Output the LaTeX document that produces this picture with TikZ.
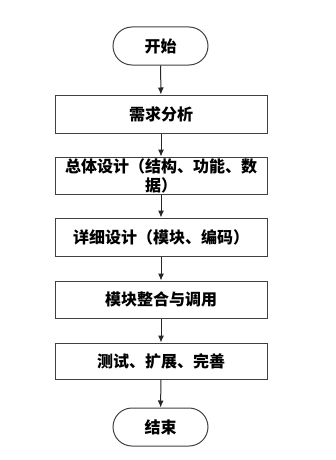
\documentclass[tikz,border=0pt]{standalone}
\usepackage{fontspec}
\newfontfamily\cjk{Noto Sans CJK SC}
\usetikzlibrary{arrows.meta}
\begin{document}
\begin{tikzpicture}[x=1pt,y=-1pt,
  every node/.style={font=\cjk\bfseries\fontsize{16}{19}\selectfont, text=black},
  procbox/.style={draw=black!75, line width=1pt, minimum width=212pt, inner xsep=0pt, inner ysep=0pt, align=center},
  termbox/.style={draw=black!75, line width=1pt, minimum width=95pt, minimum height=38pt, rounded corners=19pt, inner sep=0pt},
  flow/.style={draw=black!85, line width=1pt, -{Latex[length=7pt,width=6pt]}}]
\useasboundingbox (0,0) rectangle (336,460);
\node[termbox] (start) at (160.5,46) {开始};
\node[procbox, minimum height=38pt] (a) at (161,114) {需求分析};
\node[procbox, minimum height=37pt] (b) at (161,175.5) {总体设计（结构、功能、数\\据）};
\node[procbox, minimum height=38pt] (c) at (161,237) {详细设计（模块、编码）};
\node[procbox, minimum height=37pt] (d) at (161,299.5) {模块整合与调用};
\node[procbox, minimum height=36pt] (e) at (161,361) {测试、扩展、完善};
\node[termbox] (end) at (160.5,427) {结束};
\draw[flow] (start) -- (a);
\draw[flow] (a) -- (b);
\draw[flow] (b) -- (c);
\draw[flow] (c) -- (d);
\draw[flow] (d) -- (e);
\draw[flow] (e) -- (end);
\end{tikzpicture}
\end{document}
